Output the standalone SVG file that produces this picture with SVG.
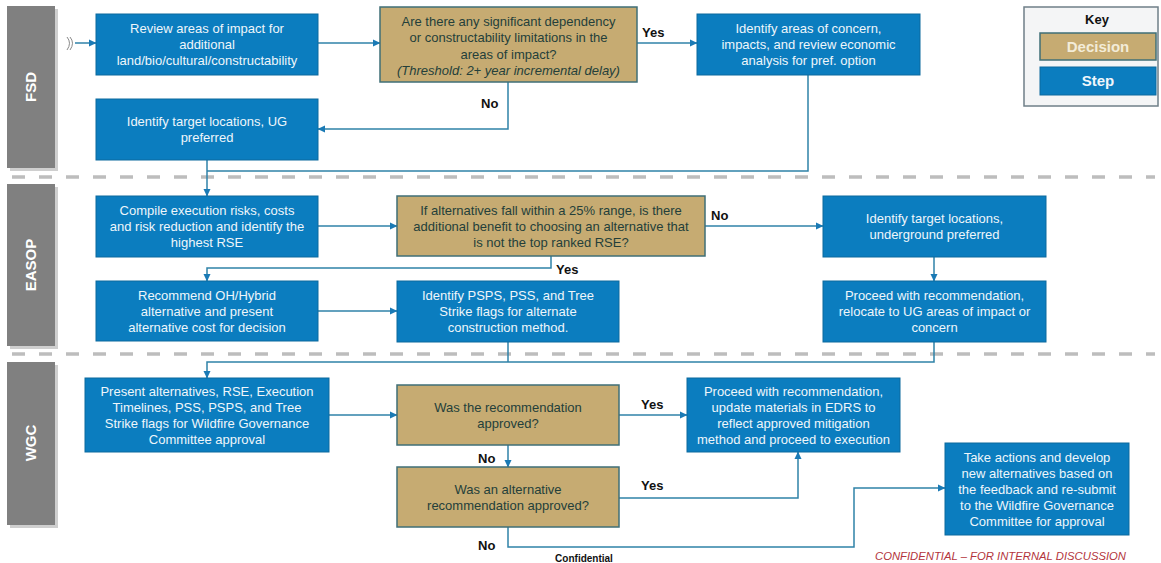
<svg xmlns="http://www.w3.org/2000/svg" width="1161" height="563" viewBox="0 0 1161 563">
<style>
.step{fill:#0b7dbf;stroke:#0d6a9e;stroke-width:1}
.dec{fill:#c6ab72;stroke:#3f6f77;stroke-width:1.5}
.st{font-family:"Liberation Sans",Arial,sans-serif;font-size:13px;fill:#eef6fb;text-anchor:middle}
.dt{font-family:"Liberation Sans",Arial,sans-serif;font-size:13px;fill:#243f3a;text-anchor:middle}
.lane{fill:#808080}
.shadow{fill:#cfcfcf}
.lt{font-family:"Liberation Sans",Arial,sans-serif;font-size:15px;font-weight:bold;fill:#ffffff;text-anchor:middle}
.lbl{font-family:"Liberation Sans",Arial,sans-serif;font-size:13px;font-weight:bold;fill:#111111}
.conn{fill:none;stroke:#2f82a8;stroke-width:1.5}
.sep{stroke:#bdbdbd;stroke-width:3.5;stroke-dasharray:13 14}
</style>
<defs>
<marker id="arr" markerWidth="8" markerHeight="8" refX="7" refY="4" orient="auto" markerUnits="userSpaceOnUse">
<path d="M0,0.5 L7.5,4 L0,7.5 Z" fill="#1a7ab5"/>
</marker>
</defs>
<rect width="1161" height="563" fill="#ffffff"/>
<g id="separators">
<line class="sep" x1="12" y1="177" x2="1155" y2="177"/>
<line class="sep" x1="12" y1="354" x2="1155" y2="354"/>
</g>
<g id="lane-fsd">
<rect class="shadow" x="10" y="9" width="48" height="162"/>
<rect class="lane" x="7" y="6" width="48" height="162"/>
<text class="lt" transform="translate(36,87) rotate(-90)">FSD</text>
</g>
<g id="lane-easop">
<rect class="shadow" x="10" y="187" width="48" height="162"/>
<rect class="lane" x="7" y="184" width="48" height="162"/>
<text class="lt" transform="translate(36,265) rotate(-90)">EASOP</text>
</g>
<g id="lane-wgc">
<rect class="shadow" x="10" y="365" width="48" height="163"/>
<rect class="lane" x="7" y="362" width="48" height="163"/>
<text class="lt" transform="translate(36,443) rotate(-90)">WGC</text>
</g>
<g id="connectors">
<path d="M67,37 Q72,43 67,50" fill="none" stroke="#8a8a8a" stroke-width="1"/>
<path d="M70,37 Q75,43 70,50" fill="none" stroke="#8a8a8a" stroke-width="1"/>
<path class="conn" d="M75,43 H96" marker-end="url(#arr)"/>
<path class="conn" d="M318,43 H380" marker-end="url(#arr)"/>
<path class="conn" d="M637,43 H697" marker-end="url(#arr)"/>
<path class="conn" d="M508,82 V129 H318" marker-end="url(#arr)"/>
<path class="conn" d="M808,75 V171 H207"/>
<path class="conn" d="M207,160 V196" marker-end="url(#arr)"/>
<path class="conn" d="M318,226 H397" marker-end="url(#arr)"/>
<path class="conn" d="M705,226 H823" marker-end="url(#arr)"/>
<path class="conn" d="M551,256 V268 H207 V281" marker-end="url(#arr)"/>
<path class="conn" d="M934,257 V281" marker-end="url(#arr)"/>
<path class="conn" d="M318,311 H397" marker-end="url(#arr)"/>
<path class="conn" d="M934,342 V362 H207 V378" marker-end="url(#arr)"/>
<path class="conn" d="M508,342 V362"/>
<path class="conn" d="M329,415 H397" marker-end="url(#arr)"/>
<path class="conn" d="M619,415 H687" marker-end="url(#arr)"/>
<path class="conn" d="M508,445 V467" marker-end="url(#arr)"/>
<path class="conn" d="M619,498 H798 V452" marker-end="url(#arr)"/>
<path class="conn" d="M508,527 V547 H854 V488 H945" marker-end="url(#arr)"/>
<text class="lbl" x="642" y="37">Yes</text>
<text class="lbl" x="481" y="108">No</text>
<text class="lbl" x="711" y="220">No</text>
<text class="lbl" x="556" y="274">Yes</text>
<text class="lbl" x="641" y="409">Yes</text>
<text class="lbl" x="478" y="463">No</text>
<text class="lbl" x="641" y="490">Yes</text>
<text class="lbl" x="478" y="550">No</text>
</g>
<g id="n-review">
<rect class="step" x="96" y="14" width="222" height="61"/>
<text class="st" x="207" y="33">Review areas of impact for</text>
<text class="st" x="207" y="49">additional</text>
<text class="st" x="207" y="65">land/bio/cultural/constructability</text>
</g>
<g id="n-dec1">
<rect class="dec" x="380" y="7" width="257" height="75"/>
<text class="dt" x="508.5" y="25.5">Are there any significant dependency</text>
<text class="dt" x="508.5" y="42">or constructability limitations in the</text>
<text class="dt" x="508.5" y="58.5">areas of impact?</text>
<text class="dt" x="508.5" y="75" font-style="italic">(Threshold: 2+ year incremental delay)</text>
</g>
<g id="n-concern">
<rect class="step" x="697" y="14" width="223" height="61"/>
<text class="st" x="808.5" y="33">Identify areas of concern,</text>
<text class="st" x="808.5" y="49">impacts, and review economic</text>
<text class="st" x="808.5" y="65">analysis for pref. option</text>
</g>
<g id="n-target-ug">
<rect class="step" x="96" y="99" width="222" height="61"/>
<text class="st" x="207" y="126">Identify target locations, UG</text>
<text class="st" x="207" y="142">preferred</text>
</g>
<g id="key">
<rect x="1024" y="7" width="134" height="99" fill="#f4f5f6" stroke="#6f7f88" stroke-width="1.5"/>
<text x="1097" y="24" font-family="Liberation Sans,Arial,sans-serif" font-size="13" font-weight="bold" fill="#111" text-anchor="middle">Key</text>
<rect class="dec" x="1040" y="33" width="116" height="27"/>
<text x="1098" y="52" font-family="Liberation Sans,Arial,sans-serif" font-size="15" font-weight="bold" fill="#f3ecd8" text-anchor="middle">Decision</text>
<rect class="step" x="1040" y="67" width="116" height="28"/>
<text x="1098" y="86" font-family="Liberation Sans,Arial,sans-serif" font-size="15" font-weight="bold" fill="#eef6fb" text-anchor="middle">Step</text>
</g>
<g id="n-compile">
<rect class="step" x="96" y="196" width="222" height="61"/>
<text class="st" x="207" y="215">Compile execution risks, costs</text>
<text class="st" x="207" y="231">and risk reduction and identify the</text>
<text class="st" x="207" y="247">highest RSE</text>
</g>
<g id="n-dec2">
<rect class="dec" x="397" y="196" width="308" height="60"/>
<text class="dt" x="551" y="215">If alternatives fall within a 25% range, is there</text>
<text class="dt" x="551" y="231">additional benefit to choosing an alternative that</text>
<text class="dt" x="551" y="247">is not the top ranked RSE?</text>
</g>
<g id="n-target-underground">
<rect class="step" x="823" y="196" width="223" height="61"/>
<text class="st" x="934.5" y="223">Identify target locations,</text>
<text class="st" x="934.5" y="239">underground preferred</text>
</g>
<g id="n-recommend">
<rect class="step" x="96" y="281" width="222" height="60"/>
<text class="st" x="207" y="299.5">Recommend OH/Hybrid</text>
<text class="st" x="207" y="315.5">alternative and present</text>
<text class="st" x="207" y="331.5">alternative cost for decision</text>
</g>
<g id="n-psps">
<rect class="step" x="397" y="281" width="222" height="61"/>
<text class="st" x="508" y="300">Identify PSPS, PSS, and Tree</text>
<text class="st" x="508" y="316">Strike flags for alternate</text>
<text class="st" x="508" y="332">construction method.</text>
</g>
<g id="n-relocate">
<rect class="step" x="823" y="281" width="223" height="61"/>
<text class="st" x="934.5" y="300">Proceed with recommendation,</text>
<text class="st" x="934.5" y="316">relocate to UG areas of impact or</text>
<text class="st" x="934.5" y="332">concern</text>
</g>
<g id="n-present">
<rect class="step" x="85" y="378" width="244" height="74"/>
<text class="st" x="207" y="395.5">Present alternatives, RSE, Execution</text>
<text class="st" x="207" y="411.5">Timelines, PSS, PSPS, and Tree</text>
<text class="st" x="207" y="427.5">Strike flags for Wildfire Governance</text>
<text class="st" x="207" y="443.5">Committee approval</text>
</g>
<g id="n-dec3">
<rect class="dec" x="397" y="385" width="222" height="60"/>
<text class="dt" x="508" y="411.5">Was the recommendation</text>
<text class="dt" x="508" y="427.5">approved?</text>
</g>
<g id="n-proceed">
<rect class="step" x="687" y="378" width="213" height="74"/>
<text class="st" x="793.5" y="395.5">Proceed with recommendation,</text>
<text class="st" x="793.5" y="411.5">update materials in EDRS to</text>
<text class="st" x="793.5" y="427.5">reflect approved mitigation</text>
<text class="st" x="793.5" y="443.5">method and proceed to execution</text>
</g>
<g id="n-dec4">
<rect class="dec" x="397" y="467" width="222" height="60"/>
<text class="dt" x="508" y="493.5">Was an alternative</text>
<text class="dt" x="508" y="509.5">recommendation approved?</text>
</g>
<g id="n-resubmit">
<rect class="step" x="945" y="443" width="184" height="92"/>
<text class="st" x="1037" y="461.5">Take actions and develop</text>
<text class="st" x="1037" y="477.5">new alternatives based on</text>
<text class="st" x="1037" y="493.5">the feedback and re-submit</text>
<text class="st" x="1037" y="509.5">to the Wildfire Governance</text>
<text class="st" x="1037" y="525.5">Committee for approval</text>
</g>
<g id="footer">
<text x="584" y="562" font-family="Liberation Sans,Arial,sans-serif" font-size="10" font-weight="bold" fill="#111" text-anchor="middle">Confidential</text>
<text x="875" y="560" font-family="Liberation Sans,Arial,sans-serif" font-size="10.5" font-style="italic" fill="#b3343c" textLength="251" lengthAdjust="spacingAndGlyphs">CONFIDENTIAL – FOR INTERNAL DISCUSSION</text>
</g>
</svg>
